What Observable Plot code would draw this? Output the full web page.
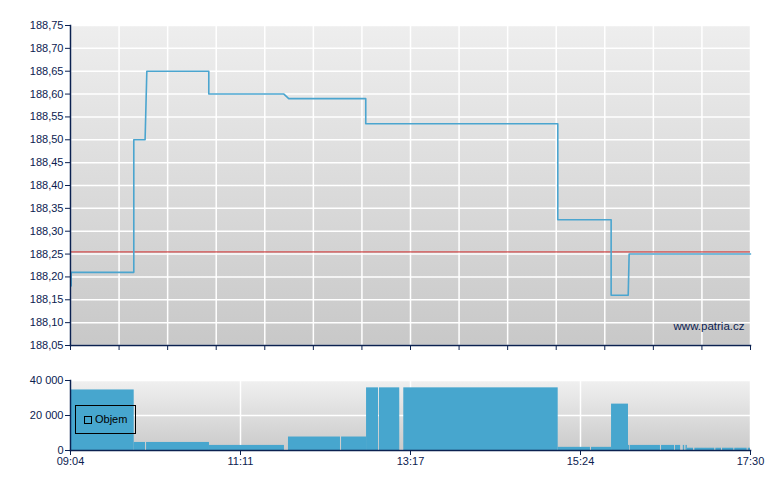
<!DOCTYPE html>
<html>
<head>
<meta charset="utf-8">
<script src="https://cdn.jsdelivr.net/npm/d3@7"></script>
<script src="https://cdn.jsdelivr.net/npm/@observablehq/plot@0.6"></script>
<style>
  html, body { margin: 0; padding: 0; background: #ffffff; }
  #wrap { position: relative; width: 780px; height: 490px; font-family: Arial, "Liberation Sans", sans-serif; }
  #wrap svg { display: block; }
  #legend { position: absolute; left: 75px; top: 405px; width: 59px; height: 27px; border: 1px solid #000; box-sizing: content-box; }
  #legend .sw { position: absolute; left: 8px; top: 10px; width: 6px; height: 6px; border: 1px solid #000; }
  #legend .lb { position: absolute; left: 19px; top: 7px; font-size: 11px; color: #000; line-height: 13px; }
</style>
</head>
<body>
<div id="wrap"></div>
<script>
// ---- data (time in minutes since midnight) ----
const startMin = 544;   // 09:04
const endMin = 1050;    // 17:30
const priceTimes  = [544.5, 544.5, 591.1, 591.1, 599.5, 600.8, 646.9, 646.9, 702.8, 706.4, 763.7, 763.7, 906.6, 906.6, 946.3, 946.3, 959.0, 959.7, 1050];
const priceValues = [188.18, 188.21, 188.21, 188.50, 188.50, 188.65, 188.65, 188.60, 188.60, 188.59, 188.59, 188.535, 188.535, 188.325, 188.325, 188.16, 188.16, 188.25, 188.25];
const prevClose = 188.255;

const volStart  = [544, 591.4, 600.6, 647.4, 706.2, 745.7, 764.3, 773.9, 792.0, 906.9, 931.7, 946.6, 959.2, 960.5, 983.8, 994.2, 1000.0, 1002.0, 1003.0, 1008.6, 1024.2, 1029.2, 1038.3, 1048.3];
const volEnd    = [591.4, 599.8, 647.4, 703.2, 744.9, 764.3, 773.2, 789.0, 906.9, 930.9, 946.6, 959.2, 960.0, 983.0, 993.5, 998.0, 1001.0, 1003.0, 1007.6, 1023.4, 1028.4, 1037.6, 1047.5, 1050];
const volValues = [34600, 4600, 4600, 2900, 7700, 7700, 35800, 35800, 35800, 1800, 1800, 26500, 2900, 2900, 2900, 2900, 2900, 2900, 1300, 1300, 1300, 1300, 1300, 1300];

const priceTicks = d3.range(0, 15).map(i => +(188.05 + i * 0.05).toFixed(2));
const volTicks = [0, 20000, 40000];
const topTimeTicks = d3.range(0, 15).map(i => startMin + i * (endMin - startMin) / 14);
const bottomTimeTicks = d3.range(0, 5).map(i => startMin + i * (endMin - startMin) / 4);
const watermark = "www.patria.cz";
const legendLabel = "Objem";

// ---- helpers ----
const navy = "#0b2150";
const lineBlue = "#4ba5cf";
const barBlue = "#47a6ce";
const priceData = priceTimes.map((t, i) => ({t, v: priceValues[i]}));
const volData = volStart.map((s, i) => ({s, e: volEnd[i], v: volValues[i]}));
const fmtPrice = v => v.toFixed(2).replace(".", ",");
const fmtVol = v => d3.format(",d")(v).replace(/,/g, " ");
const fmtTime = m => { const r = Math.round(m); return String(Math.floor(r / 60)).padStart(2, "0") + ":" + String(r % 60).padStart(2, "0"); };

function gradientDefs(id, c1, c2) {
  return () => {
    const g = d3.create("svg:g");
    const lg = g.append("defs").append("linearGradient")
      .attr("id", id).attr("x1", 0).attr("y1", 0).attr("x2", 0).attr("y2", 1);
    lg.append("stop").attr("offset", "0%").attr("stop-color", c1);
    lg.append("stop").attr("offset", "100%").attr("stop-color", c2);
    return g.node();
  };
}

const baseStyle = {fontFamily: "Arial, 'Liberation Sans', sans-serif", fontSize: "11px", color: navy, background: "transparent", overflow: "visible"};

// ---- price panel ----
const pricePlot = Plot.plot({
  width: 780, height: 360,
  marginTop: 25, marginBottom: 15, marginLeft: 70, marginRight: 30,
  style: baseStyle,
  x: {domain: [startMin, endMin]},
  y: {domain: [188.05, 188.75]},
  marks: [
    gradientDefs("gradTop", "#eeeeee", "#c8c8c8"),
    Plot.frame({fill: "url(#gradTop)", stroke: "none"}),
    Plot.gridX(topTimeTicks, {stroke: "#ffffff", strokeOpacity: 1, strokeWidth: 1.5}),
    Plot.gridY(priceTicks, {stroke: "#ffffff", strokeOpacity: 1, strokeWidth: 1.5}),
    Plot.ruleY([prevClose], {stroke: "#d24848", strokeOpacity: 0.7, strokeWidth: 1.8}),
    Plot.line(priceData, {x: "t", y: "v", stroke: lineBlue, strokeWidth: 1.6, curve: "linear"}),
    Plot.text([watermark], {frameAnchor: "bottom-right", dx: -6, dy: -16, fill: navy, fontSize: 11.5}),
    Plot.axisY(priceTicks, {tickFormat: fmtPrice, tickSize: 5, tickPadding: 2, stroke: navy, fill: navy, label: null}),
    Plot.axisX(topTimeTicks, {tickFormat: () => "", tickSize: 5, stroke: navy, label: null}),
    Plot.frame({anchor: "left", stroke: navy, strokeWidth: 1.5}),
    Plot.frame({anchor: "bottom", stroke: navy, strokeWidth: 1.5})
  ]
});

// ---- volume panel ----
const volumePlot = Plot.plot({
  width: 780, height: 130,
  marginTop: 20, marginBottom: 40, marginLeft: 70, marginRight: 30,
  style: baseStyle,
  x: {domain: [startMin, endMin]},
  y: {domain: [0, 40000]},
  marks: [
    gradientDefs("gradBot", "#f0f0f0", "#cacaca"),
    Plot.frame({fill: "url(#gradBot)", stroke: "none"}),
    Plot.gridX(bottomTimeTicks, {stroke: "#ffffff", strokeOpacity: 1, strokeWidth: 1.5}),
    Plot.gridY(volTicks, {stroke: "#ffffff", strokeOpacity: 1, strokeWidth: 1.5}),
    Plot.rectY(volData, {x1: "s", x2: "e", y: "v", fill: barBlue}),
    Plot.axisY(volTicks, {tickFormat: fmtVol, tickSize: 5, tickPadding: 2, stroke: navy, fill: navy, label: null}),
    Plot.axisX(bottomTimeTicks, {tickFormat: fmtTime, tickSize: 5, tickPadding: 2, stroke: navy, fill: navy, label: null}),
    Plot.frame({anchor: "left", stroke: navy, strokeWidth: 1.5}),
    Plot.frame({anchor: "bottom", stroke: navy, strokeWidth: 1.5})
  ]
});

const wrap = document.getElementById("wrap");
wrap.appendChild(pricePlot);
wrap.appendChild(volumePlot);
const legend = document.createElement("div");
legend.id = "legend";
legend.innerHTML = '<div class="sw"></div><div class="lb"></div>';
legend.querySelector(".lb").textContent = legendLabel;
wrap.appendChild(legend);
</script>
</body>
</html>
